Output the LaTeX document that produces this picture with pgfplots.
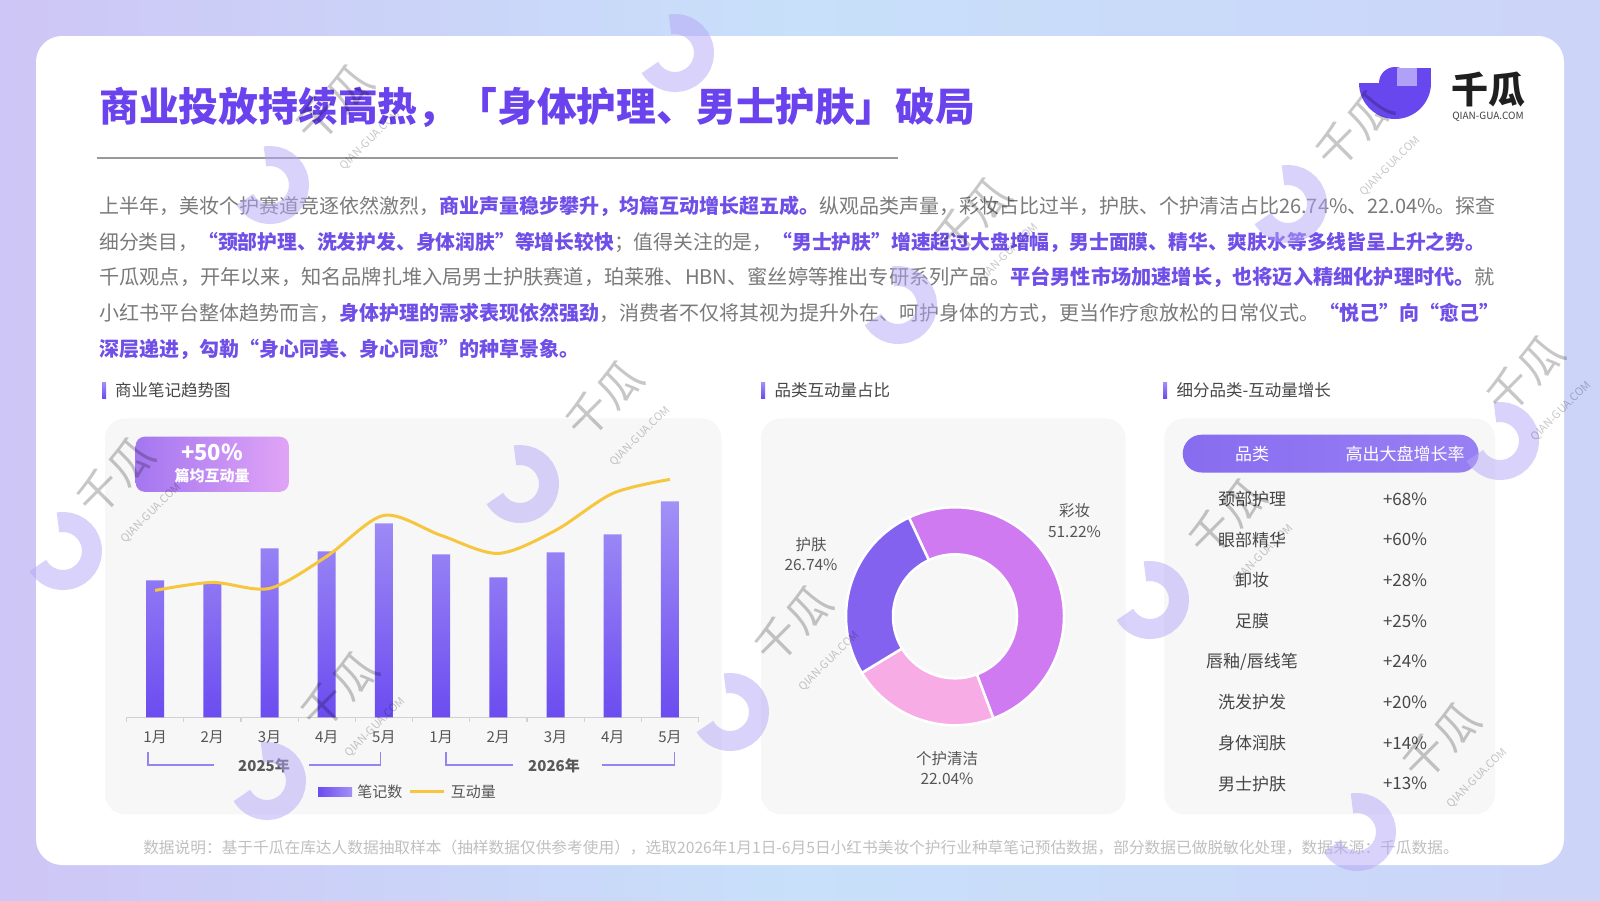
\documentclass[border=0pt]{standalone}
\usepackage{pgfplots}
\pgfplotsset{compat=1.18}
\usepackage{fontspec}
\setmainfont{Noto Sans CJK SC}
\usetikzlibrary{calc}

\definecolor{titlepurple}{RGB}{106,66,238}
\definecolor{hl}{RGB}{112,78,232}
\definecolor{bodygray}{RGB}{122,122,122}
\definecolor{panelbg}{RGB}{247,247,248}
\definecolor{barTop}{RGB}{162,145,246}
\definecolor{barBot}{RGB}{108,76,240}
\definecolor{lineY}{RGB}{246,199,62}
\definecolor{cMakeup}{RGB}{208,122,242}
\definecolor{cClean}{RGB}{248,172,230}
\definecolor{cSkin}{RGB}{132,98,240}
\definecolor{lav}{RGB}{180,166,246}
\definecolor{brk}{RGB}{150,132,240}
\definecolor{darktext}{RGB}{70,70,70}
\definecolor{midtext}{RGB}{85,85,85}
\definecolor{bgL}{RGB}{206,198,246}
\definecolor{bgM}{RGB}{200,224,250}
\definecolor{bgR}{RGB}{204,212,248}
\definecolor{footgray}{RGB}{192,192,192}
\definecolor{pillL}{RGB}{136,108,240}
\definecolor{pillR}{RGB}{152,128,243}
\definecolor{callL}{RGB}{164,118,240}
\definecolor{callR}{RGB}{224,164,246}
\definecolor{logoP}{RGB}{104,72,238}
\definecolor{logoL}{RGB}{176,160,248}

\newcommand\fs[1]{\fontsize{#1}{#1}\selectfont}
\newcommand\hl[1]{{\bfseries\color{hl}#1}}

\begin{document}
\begin{tikzpicture}[x=1pt,y=-1pt]
\useasboundingbox (0,0) rectangle (1600,900);
% background and card
\fill[left color=bgL,right color=bgR,middle color=bgM] (0,0) rectangle (1600,900);
\fill[white,rounded corners=26pt] (36,36) rectangle (1564,865);

% title
\node[anchor=west,inner sep=0,text=titlepurple,font=\fs{39.8}\bfseries] at (99,107) {商业投放持续高热，「身体护理、男士护肤」破局};
\draw[black!40,line width=1.5pt] (97,158) -- (898,158);

% logo
\fill[logoP] ($(1395,83)+(180:36pt)$) arc[start angle=180,end angle=360,radius=36pt] -- ($(1395,83)+(0:16pt)$) arc[start angle=0,end angle=180,radius=16pt] -- cycle;
\fill[logoP] (1411,68) rectangle (1431,84);
\fill[logoL] (1397,68) rectangle (1417,86);
\node[font=\fs{37}\bfseries,text=black!88] at (1488,90) {千瓜};
\node[font=\fs{10},text=black!75] at (1488,117) {QIAN-GUA.COM};

% paragraph
\begin{scope}[every node/.style={anchor=west,inner sep=0,font=\fs{20},text=bodygray}]
\node at (99,206) {上半年，美妆个护赛道竞逐依然激烈，\hl{商业声量稳步攀升，均篇互动增长超五成。}纵观品类声量，彩妆占比过半，护肤、个护清洁占比26.74\%、22.04\%。探查};
\node[font=\fs{19.8}] at (99,242) {细分类目，\hl{“颈部护理、洗发护发、身体润肤”等增长较快}；值得关注的是，\hl{“男士护肤”增速超过大盘增幅，男士面膜、精华、爽肤水等多线皆呈上升之势。}};
\node[font=\fs{20.2}] at (99,277.6) {千瓜观点，开年以来，知名品牌扎堆入局男士护肤赛道，珀莱雅、HBN、蜜丝婷等推出专研系列产品。\hl{平台男性市场加速增长，也将迈入精细化护理时代。}就};
\node at (99,313) {小红书平台整体趋势而言，\hl{身体护理的需求表现依然强劲}，消费者不仅将其视为提升外在、呵护身体的方式，更当作疗愈放松的日常仪式。\hl{“悦己”向“愈己”}};
\node at (99,349) {\hl{深层递进，勾勒“身心同美、身心同愈”的种草景象。}};
\end{scope}

% section headers
\foreach \bx/\tx/\t in {102/115/商业笔记趋势图,761/774.5/品类互动量占比,1163/1176.5/细分品类-互动量增长}{
  \shade[top color=barTop,bottom color=barBot] (\bx,382) rectangle (\bx+4,398);
  \node[anchor=west,inner sep=0,font=\fs{16.5},text=darktext] at (\tx,390) {\t};
}

% panels
\fill[panelbg,rounded corners=20pt] (105,418.4) rectangle (721.5,814.3);
\fill[panelbg,rounded corners=20pt] (761,418.4) rectangle (1125.5,814.3);
\fill[panelbg,rounded corners=20pt] (1164.3,418.4) rectangle (1495,814.3);

% bar + line chart
\begin{axis}[
  at={(126.5pt,-717.4pt)}, anchor=south west,
  scale only axis, width=572pt, height=250pt,
  xmin=-0.5, xmax=9.5, ymin=0, ymax=250,
  axis y line=none, axis x line*=bottom,
  axis line style={draw=black!18,line width=1.2pt},
  xtick={0,...,9},
  xticklabels={1月,2月,3月,4月,5月,1月,2月,3月,4月,5月},
  major tick length=0pt,
  minor xtick={-0.5,0.5,...,9.5},
  minor tick length=5pt, tick align=outside,
  minor tick style={draw=black!18,line width=1.2pt},
  xticklabel style={font=\fs{15},text=midtext,anchor=center,yshift=-20pt},
  legend style={at={(0.492,-0.298)},anchor=center,draw=none,fill=none,
    legend columns=2,font=\fs{15},text=midtext,
    /tikz/every even column/.append style={column sep=4pt},
    /tikz/every odd column/.append style={column sep=0pt}},
  legend cell align=left,
  clip=false,
]
\addplot[ybar,bar width=18pt,draw=none,top color=barTop,bottom color=barBot,
  legend image code/.code={\path[left color=barBot,right color=barTop] (0pt,-4.5pt) rectangle (34pt,4.5pt);}]
  coordinates {(0,137) (1,134) (2,169) (3,166) (4,194) (5,163) (6,140) (7,165) (8,183) (9,216)};
\addplot[lineY,line width=3pt,smooth,no markers,
  legend image code/.code={\draw[lineY,line width=3pt] (0pt,0pt) -- (34pt,0pt);}]
  coordinates {(0,127) (1,135) (2,129) (3,161) (4,202) (5,182) (6,164) (7,187) (8,224) (9,238)};
\legend{\ 笔记数,\ 互动量}
\end{axis}

% callout
\shade[left color=callL,right color=callR,rounded corners=9pt] (135.7,436.7) rectangle (288.8,491.8);
\node[text=white,font=\fs{22}\bfseries] at (212,452) {+50\%};
\node[text=white,font=\fs{15}\bfseries] at (212,476) {篇均互动量};

% year brackets
\draw[brk,line width=1.2pt] (148,752) -- (148,765) -- (214,765);
\draw[brk,line width=1.2pt] (309,765) -- (380.6,765) -- (380.6,752);
\draw[brk,line width=1.2pt] (446,752) -- (446,765) -- (513,765);
\draw[brk,line width=1.2pt] (602,765) -- (674.5,765) -- (674.5,752);
\node[font=\fs{15}\bfseries,text=black!65] at (264,766) {2025年};
\node[font=\fs{15}\bfseries,text=black!65] at (554,766) {2026年};

% donut
\def\vA{51.22}\def\vB{22.04}\def\vC{26.74}
\pgfmathsetmacro\aA{115}
\pgfmathsetmacro\aB{\aA-\vA*3.6}
\pgfmathsetmacro\aC{\aB-\vB*3.6}
\pgfmathsetmacro\aD{\aC-\vC*3.6}
\begin{axis}[at={(955pt,-616.3pt)},anchor=center,scale only axis,width=240pt,height=240pt,
  xmin=-120,xmax=120,ymin=-120,ymax=120,hide axis,clip=false]
\path[fill=cMakeup,draw=white,line width=2.5pt] ($(axis cs:0,0)+(\aA:109pt)$) arc[start angle=\aA,end angle=\aB,radius=109pt] -- ($(axis cs:0,0)+(\aB:62pt)$) arc[start angle=\aB,end angle=\aA,radius=62pt] -- cycle;
\path[fill=cClean,draw=white,line width=2.5pt] ($(axis cs:0,0)+(\aB:109pt)$) arc[start angle=\aB,end angle=\aC,radius=109pt] -- ($(axis cs:0,0)+(\aC:62pt)$) arc[start angle=\aC,end angle=\aB,radius=62pt] -- cycle;
\path[fill=cSkin,draw=white,line width=2.5pt] ($(axis cs:0,0)+(\aC:109pt)$) arc[start angle=\aC,end angle=\aD,radius=109pt] -- ($(axis cs:0,0)+(\aD:62pt)$) arc[start angle=\aD,end angle=\aC,radius=62pt] -- cycle;
\end{axis}
\node[align=center,font=\fontsize{15.5}{20.5}\selectfont,text=midtext] at (1074.5,520.5) {彩妆\\51.22\%};
\node[align=center,font=\fontsize{15.5}{20.5}\selectfont,text=midtext] at (811,554) {护肤\\26.74\%};
\node[align=center,font=\fontsize{15.5}{20.5}\selectfont,text=midtext] at (947,768) {个护清洁\\22.04\%};

% table
\shade[left color=pillL,right color=pillR,rounded corners=18.9pt] (1182.7,434.7) rectangle (1478.6,472.5);
\node[text=white,font=\fs{17}] at (1252,454) {品类};
\node[text=white,font=\fs{17}] at (1405,454) {高出大盘增长率};
\begin{scope}[every node/.style={font=\fs{17},text=darktext}]
\node at (1252,499) {颈部护理};   \node at (1405,499) {+68\%};
\node at (1252,539.7) {眼部精华}; \node at (1405,539.7) {+60\%};
\node at (1252,580.3) {卸妆};     \node at (1405,580.3) {+28\%};
\node at (1252,621) {足膜};       \node at (1405,621) {+25\%};
\node at (1252,661.7) {唇釉/唇线笔}; \node at (1405,661.7) {+24\%};
\node at (1252,702.3) {洗发护发}; \node at (1405,702.3) {+20\%};
\node at (1252,743) {身体润肤};   \node at (1405,743) {+14\%};
\node at (1252,783.7) {男士护肤}; \node at (1405,783.7) {+13\%};
\end{scope}

% footer
\node[font=\fs{15.7},text=footgray] at (801,848) {数据说明：基于千瓜在库达人数据抽取样本（抽样数据仅供参考使用），选取2026年1月1日-6月5日小红书美妆个护行业种草笔记预估数据，部分数据已做脱敏化处理，数据来源：千瓜数据。};

% decorative rings
\foreach \cx/\cy in {675/53,270/185,520/484,63/551,730/712,267/781,898/305,1288/204,1150/600,1500/441,1357/832}{
  \draw[lav,line width=20pt,opacity=0.5] ($(\cx,\cy)+(100:29pt)$) arc[start angle=100,end angle=-150,radius=29pt];
}
% watermarks
\foreach \wx/\wy in {347/117,617/413,352/704,128/490,806/638,985/230,1367/143,1240/531,1454/755,1538/388}{
  \node[rotate=45,align=center,text=black,opacity=0.22,font=\fs{44}] at (\wx,\wy) {千瓜\\[-6pt]{\fs{11}QIAN-GUA.COM}};
}
\end{tikzpicture}
\end{document}
